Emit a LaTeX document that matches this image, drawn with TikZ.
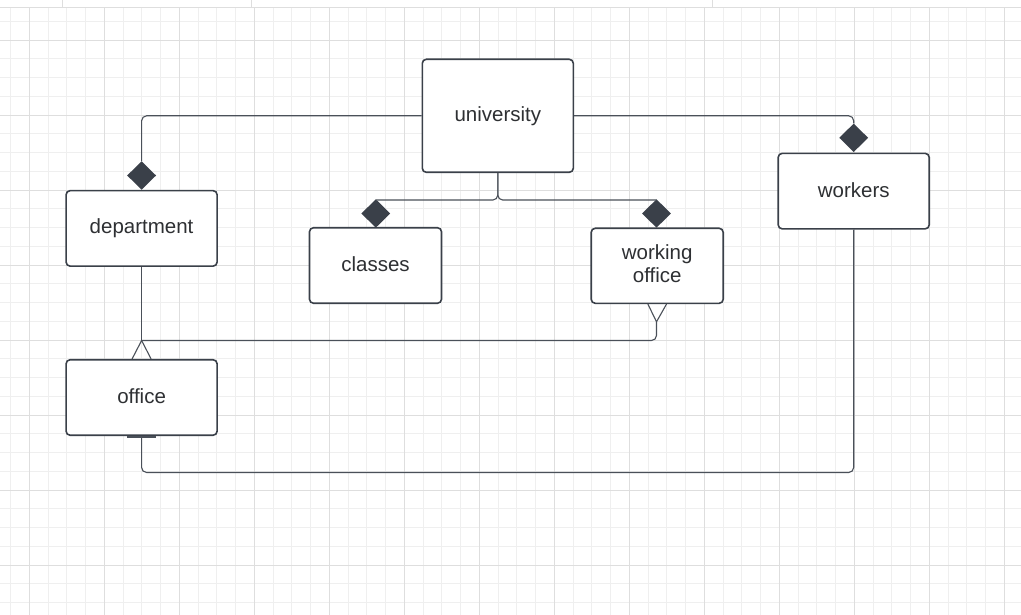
\documentclass[tikz,border=0pt]{standalone}
\usepackage{fontspec}
\setmainfont{Liberation Sans}
\usetikzlibrary{shapes.geometric}
\definecolor{ink}{HTML}{3A4049}
\definecolor{wire}{HTML}{4A5059}
\definecolor{txt}{HTML}{2E3033}
\definecolor{gridminor}{HTML}{EFEFEF}
\definecolor{gridmajor}{HTML}{DEDEDE}
\begin{document}
\begin{tikzpicture}[x=1pt,y=-1pt,
  entity/.style={draw=ink, line width=1.6pt, fill=white, rounded corners=4pt,
    inner sep=0pt, font=\fontsize{20.5}{24.5}\selectfont, text=txt, align=center},
  owner/.style={diamond, fill=ink, draw=none, inner sep=0pt, aspect=1,
    minimum width=29pt, minimum height=28.5pt},
  link/.style={draw=wire, line width=1.1pt, rounded corners=5pt},
  foot/.style={draw=wire, line width=1.1pt}]
\useasboundingbox (0,0) rectangle (1021,615);
\fill[white] (0,0) rectangle (1021,615);
% background grid
\foreach \i in {0,...,54} \draw[gridminor, line width=0.9pt] ({10.55+18.75*\i},8) -- ({10.55+18.75*\i},615);
\foreach \i in {0,...,32} \draw[gridminor, line width=0.9pt] (0,{21.25+18.75*\i}) -- (1021,{21.25+18.75*\i});
\foreach \i in {0,...,13} \draw[gridmajor, line width=0.9pt] ({29.3+75*\i},8) -- ({29.3+75*\i},615);
\foreach \i in {0,...,7} \draw[gridmajor, line width=0.9pt] (0,{40+75*\i}) -- (1021,{40+75*\i});
% top strip
\fill[white] (0,0) rectangle (1021,8);
\draw[gridmajor, line width=1pt] (0,8) -- (1021,8);
\foreach \x in {62,251,712} \draw[gridmajor, line width=1pt] (\x,0) -- (\x,8);

% entities
\node[entity, minimum width=151pt, minimum height=113pt] (univ) at (497.8,115.8) {\raisebox{3.5pt}{university}};
\node[entity, minimum width=151pt, minimum height=75.5pt] (dept) at (141.6,228.4) {\raisebox{2.5pt}{department}};
\node[entity, minimum width=132pt, minimum height=75.5pt] (cls) at (375.5,265.5) {\raisebox{2.5pt}{classes}};
\node[entity, minimum width=132pt, minimum height=75pt] (wo) at (657.2,265.8) {\raisebox{2.5pt}{\begin{tabular}{@{}c@{}}working\\[-1.5pt]office\end{tabular}}};
\node[entity, minimum width=151pt, minimum height=75.5pt] (wk) at (853.7,191.1) {\raisebox{2.5pt}{workers}};
\node[entity, minimum width=151pt, minimum height=75.5pt] (off) at (141.6,397.5) {\raisebox{3pt}{office}};

% composition diamonds
\node[owner] (dDept) at (141.6,175.5) {};
\node[owner] (dWk) at (853.7,137.8) {};
\node[owner] (dCls) at (375.8,213.5) {};
\node[owner] (dWo) at (656.5,213.5) {};

% university links
\draw[link] (univ.west) -| (dDept.north);
\draw[link] (univ.east) -| (dWk.north);
\draw[link] (univ.south) |- ([yshift=-1pt]dCls.north);
\draw[link] (univ.south) |- ([yshift=-1pt]dWo.north);

% crow's feet and their links
\coordinate (offApex) at (141.6,340.5);
\coordinate (woApex) at (656.5,321.8);
\draw[foot] (dept.south) -- (offApex);
\draw[foot] ([xshift=-9.5pt]off.north) -- (offApex) -- ([xshift=9.5pt]off.north);
\draw[foot] ([xshift=-9.3pt]wo.south) -- (woApex) -- ([xshift=9.3pt]wo.south);
\draw[link] (woApex) |- (offApex);

% office to workers
\coordinate (lowR) at (853.7,472.5);
\draw[link] (off.south) |- (lowR) -- (wk.south);
\draw[draw=wire, line width=2pt] ([xshift=-14.5pt,yshift=-1pt]off.south) -- ([xshift=14.5pt,yshift=-1pt]off.south);
\end{tikzpicture}
\end{document}
